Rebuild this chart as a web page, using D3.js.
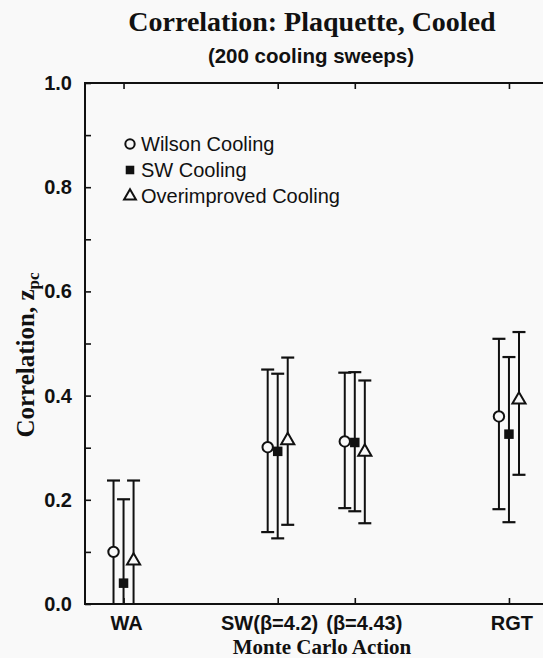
<!DOCTYPE html>
<html>
<head>
<meta charset="utf-8">
<script src="https://cdn.jsdelivr.net/npm/d3@7"></script>
<style>
  html, body { margin: 0; padding: 0; background: #f9f9f9; }
  svg { display: block; }
</style>
</head>
<body>
<svg id="chart" width="543" height="658"></svg>
<script>
// ---- data ----
const categories = ["WA", "SW(β=4.2)", "(β=4.43)", "RGT"];
const categoryPos = [1, 3, 4, 6];
const seriesNames = ["Wilson Cooling", "SW Cooling", "Overimproved Cooling"];
const wilsonValue = [0.100, 0.301, 0.312, 0.360];
const wilsonLow   = [-0.040, 0.138, 0.184, 0.182];
const wilsonHigh  = [0.237, 0.450, 0.444, 0.509];
const swValue     = [0.040, 0.293, 0.310, 0.326];
const swLow       = [-0.120, 0.126, 0.178, 0.157];
const swHigh      = [0.201, 0.442, 0.445, 0.474];
const overValue   = [0.083, 0.314, 0.292, 0.392];
const overLow     = [-0.070, 0.152, 0.155, 0.248];
const overHigh    = [0.237, 0.473, 0.429, 0.522];
const yTickLabels = [0.0, 0.2, 0.4, 0.6, 0.8, 1.0];
const yMinorTicks = [0.1, 0.3, 0.5, 0.7, 0.9];

const series = [
  { name: seriesNames[0], value: wilsonValue, low: wilsonLow, high: wilsonHigh, symbol: "circle", offset: -0.13 },
  { name: seriesNames[1], value: swValue, low: swLow, high: swHigh, symbol: "square", offset: 0 },
  { name: seriesNames[2], value: overValue, low: overLow, high: overHigh, symbol: "triangle", offset: 0.13 }
];

// ---- layout ----
const svg = d3.select("#chart");
const mLeft = 85, mRight = 547.5, mTop = 83, mBottom = 604;
const x = d3.scaleLinear().domain([0.5, 6.5]).range([mLeft, mRight]);
const y = d3.scaleLinear().domain([0, 1]).range([mBottom, mTop]);
const ink = "#111";
const paper = "#f9f9f9";
const sans = "'Liberation Sans', Arial, sans-serif";
const serif = "'Liberation Serif', 'Times New Roman', serif";

// titles
svg.append("text").attr("x", 312).attr("y", 31).attr("text-anchor", "middle")
  .attr("font-family", serif).attr("font-weight", "bold").attr("font-size", 28).attr("fill", ink)
  .text("Correlation: Plaquette, Cooled");
svg.append("text").attr("x", 311).attr("y", 63).attr("text-anchor", "middle")
  .attr("font-family", sans).attr("font-weight", "bold").attr("font-size", 20.5).attr("fill", ink)
  .text("(200 cooling sweeps)");

// clip
svg.append("defs").append("clipPath").attr("id", "plotclip")
  .append("rect").attr("x", mLeft).attr("y", mTop).attr("width", mRight - mLeft).attr("height", mBottom - mTop);

// frame
svg.append("rect").attr("x", mLeft).attr("y", mTop).attr("width", mRight - mLeft).attr("height", mBottom - mTop)
  .attr("fill", "none").attr("stroke", ink).attr("stroke-width", 2);

// y axis ticks (inward)
const yAxis = d3.axisRight(y).tickValues(yTickLabels.concat(yMinorTicks)).tickSize(6).tickFormat("");
svg.append("g").attr("transform", `translate(${mLeft},0)`).call(yAxis)
  .call(g => g.select(".domain").remove())
  .call(g => g.selectAll("line").attr("stroke", ink).attr("stroke-width", 1.6));
svg.append("g").selectAll("text").data(yTickLabels).join("text")
  .attr("x", mLeft - 13).attr("y", d => y(d)).attr("dy", "0.35em").attr("text-anchor", "end")
  .attr("font-family", sans).attr("font-weight", "bold").attr("font-size", 20).attr("fill", ink)
  .text(d => d3.format(".1f")(d));

// top / bottom ticks (inward)
svg.append("g").attr("transform", `translate(0,${mTop})`)
  .call(d3.axisBottom(x).tickValues(categoryPos).tickSize(6).tickFormat(""))
  .call(g => g.select(".domain").remove())
  .call(g => g.selectAll("line").attr("stroke", ink).attr("stroke-width", 1.6));
svg.append("g").attr("transform", `translate(0,${mBottom})`)
  .call(d3.axisTop(x).tickValues(categoryPos).tickSize(6).tickFormat(""))
  .call(g => g.select(".domain").remove())
  .call(g => g.selectAll("line").attr("stroke", ink).attr("stroke-width", 1.6));

// category labels
const mid34 = (x(categoryPos[1]) + x(categoryPos[2])) / 2 + 6;
svg.append("g").selectAll("text").data(categories).join("text")
  .attr("x", (d, i) => i === 1 ? mid34 - 4 : i === 2 ? mid34 + 4 : x(categoryPos[i]) + 3)
  .attr("y", 630)
  .attr("text-anchor", (d, i) => i === 1 ? "end" : i === 2 ? "start" : "middle")
  .attr("font-family", sans).attr("font-weight", "bold").attr("font-size", 20).attr("fill", ink)
  .text(d => d);

// axis titles
svg.append("text").attr("x", 322).attr("y", 654).attr("text-anchor", "middle")
  .attr("font-family", serif).attr("font-weight", "bold").attr("font-size", 21).attr("fill", ink)
  .text("Monte Carlo Action");
const yl = svg.append("text").attr("transform", "translate(34,355) rotate(-90)").attr("text-anchor", "middle")
  .attr("font-family", serif).attr("font-weight", "bold").attr("font-size", 25).attr("fill", ink);
yl.append("tspan").text("Correlation, z");
yl.append("tspan").attr("font-size", 17).attr("dy", 5).text("pc");

// error bars + markers
const plot = svg.append("g").attr("clip-path", "url(#plotclip)");
const capW = 13;
series.forEach(s => {
  const g = plot.append("g");
  const idx = d3.range(categories.length);
  g.selectAll("line.bar").data(idx).join("line")
    .attr("x1", i => x(categoryPos[i] + s.offset)).attr("x2", i => x(categoryPos[i] + s.offset))
    .attr("y1", i => y(s.low[i])).attr("y2", i => y(s.high[i]))
    .attr("stroke", ink).attr("stroke-width", 2);
  g.selectAll("line.capHi").data(idx).join("line")
    .attr("x1", i => x(categoryPos[i] + s.offset) - capW / 2).attr("x2", i => x(categoryPos[i] + s.offset) + capW / 2)
    .attr("y1", i => y(s.high[i])).attr("y2", i => y(s.high[i]))
    .attr("stroke", ink).attr("stroke-width", 2.2);
  g.selectAll("line.capLo").data(idx).join("line")
    .attr("x1", i => x(categoryPos[i] + s.offset) - capW / 2).attr("x2", i => x(categoryPos[i] + s.offset) + capW / 2)
    .attr("y1", i => y(s.low[i])).attr("y2", i => y(s.low[i]))
    .attr("stroke", ink).attr("stroke-width", 2.2);
  idx.forEach(i => drawMarker(g, s.symbol, x(categoryPos[i] + s.offset), y(s.value[i]), 1));
});

function drawMarker(g, sym, cx, cy, k) {
  if (sym === "circle") {
    g.append("circle").attr("cx", cx).attr("cy", cy).attr("r", 5.2 * k)
      .attr("fill", paper).attr("stroke", ink).attr("stroke-width", 2);
  } else if (sym === "square") {
    const s = 9.5 * k;
    g.append("rect").attr("x", cx - s / 2).attr("y", cy - s / 2).attr("width", s).attr("height", s)
      .attr("fill", ink);
  } else {
    g.append("path").attr("transform", `translate(${cx},${cy})`)
      .attr("d", d3.symbol(d3.symbolTriangle, 75 * k * k)())
      .attr("fill", paper).attr("stroke", ink).attr("stroke-width", 2);
  }
}

// legend
const legY = [144, 170, 196];
series.forEach((s, i) => {
  drawMarker(svg, s.symbol, 130, legY[i], 0.9);
  svg.append("text").attr("x", 141).attr("y", legY[i]).attr("dy", "0.36em")
    .attr("font-family", sans).attr("font-size", 20).attr("fill", ink).text(s.name);
});
</script>
</body>
</html>
